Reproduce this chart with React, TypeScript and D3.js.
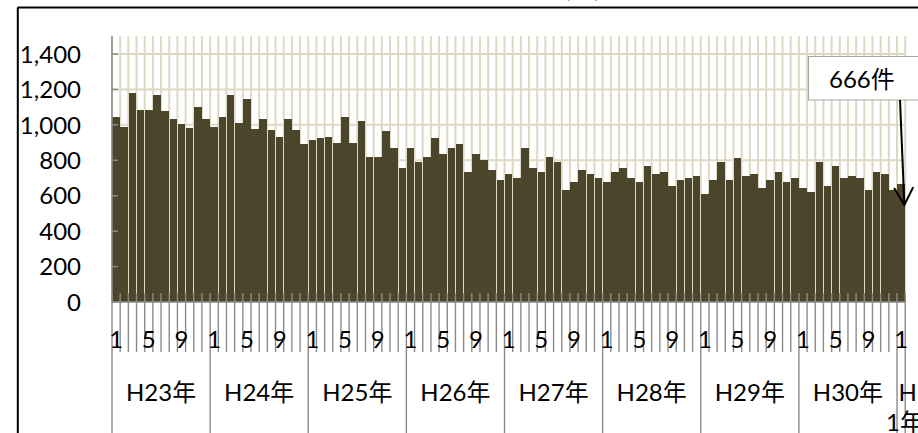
import React from "react";
import * as d3 from "d3";

const years = ["H23年", "H24年", "H25年", "H26年", "H27年", "H28年", "H29年", "H30年", "H31年"];
const h23 = [1046, 990, 1182, 1082, 1082, 1168, 1080, 1035, 1003, 980, 1103, 1035];
const h24 = [990, 1046, 1168, 1012, 1146, 977, 1035, 969, 933, 1035, 969, 890];
const h25 = [913, 924, 933, 900, 1046, 900, 1024, 820, 820, 967, 867, 755];
const h26 = [867, 788, 820, 924, 833, 867, 890, 732, 833, 800, 743, 687];
const h27 = [721, 698, 867, 755, 732, 820, 788, 630, 676, 743, 721, 698];
const h28 = [676, 732, 755, 698, 676, 766, 721, 732, 653, 687, 698, 710];
const h29 = [608, 687, 788, 687, 811, 710, 721, 642, 687, 732, 676, 698];
const h30 = [642, 619, 788, 653, 766, 698, 710, 698, 630, 732, 721, 630];
const h31 = [666];
const yearSeries = [h23, h24, h25, h26, h27, h28, h29, h30, h31];
const yTicks = [0, 200, 400, 600, 800, 1000, 1200, 1400];
const shownMonths = [1, 5, 9];
const annotationText = "666件";
const titleText = "刑法犯の認知件数(件)";

const FONT = "Lato, 'Noto Sans CJK JP', sans-serif";
const FS = 24;

type Row = { idx: number; year: number; month: number; value: number };
const rows: Row[] = [];
yearSeries.forEach((s, yi) =>
  s.forEach((v, mi) => rows.push({ idx: rows.length, year: yi, month: mi + 1, value: v }))
);

export default function App() {
  const left = 112, right = 905.2, top = 36.3, bottom = 302;
  const x = d3.scaleBand<number>().domain(rows.map((r) => r.idx)).range([left, right]).padding(0);
  const bw = x.bandwidth();
  const y = d3.scaleLinear().domain([0, 1500]).range([bottom, top]);
  const grid = "#ddd9c3";
  const tickCol = "#8a8a8a";
  const barCol = "#4a452b";

  const boundaries = d3.range(rows.length + 1).map((i) => left + i * bw);
  const yearStart: number[] = [];
  rows.forEach((r) => { if (r.month === 1) yearStart.push(r.idx); });

  const last = rows[rows.length - 1];
  const tipX = (x(last.idx) as number) + bw * 0.9;
  const tipY = y(last.value) + 21;
  const tailX = 900, tailY = 100;
  const ang = Math.atan2(tipY - tailY, tipX - tailX);
  const wing = 20, spread = 0.5;
  const w1 = [tipX - wing * Math.cos(ang - spread), tipY - wing * Math.sin(ang - spread)];
  const w2 = [tipX - wing * Math.cos(ang + spread), tipY - wing * Math.sin(ang + spread)];

  return (
    <svg width={918} height={433} style={{ position: "absolute", left: 0, top: 0, background: "#fff" }} fontFamily={FONT}>
      <rect x={0} y={0} width={918} height={433} fill="#fff" />
      <text x={600} y={-3.5} textAnchor="end" fontSize={23} fontWeight="bold" fill="#000">{titleText}</text>
      {/* chart border */}
      <line x1={17.5} y1={7.5} x2={918} y2={7.5} stroke="#000" strokeWidth={2} />
      <line x1={17.8} y1={7.5} x2={17.8} y2={433} stroke="#000" strokeWidth={2} />

      {/* horizontal gridlines */}
      {yTicks.filter((t) => t > 0).map((t) => (
        <line key={"hg" + t} x1={left} x2={right} y1={y(t)} y2={y(t)} stroke={grid} strokeWidth={2} />
      ))}
      {/* vertical gridlines */}
      {boundaries.map((b, i) => (
        <line key={"vg" + i} x1={b} x2={b} y1={top} y2={bottom} stroke={grid} strokeWidth={2} />
      ))}

      {/* bars */}
      {rows.map((r) => (
        <rect key={"b" + r.idx} x={(x(r.idx) as number) + 0.3} width={bw - 0.6} y={y(r.value)} height={bottom - y(r.value)} fill={barCol} shapeRendering="crispEdges" />
      ))}

      {/* y axis */}
      <line x1={left} x2={left} y1={top} y2={bottom} stroke={tickCol} strokeWidth={1.5} />
      {yTicks.map((t) => (
        <g key={"yt" + t}>
          <line x1={left} x2={left + 6} y1={y(t)} y2={y(t)} stroke={tickCol} strokeWidth={1.5} />
          <text x={81} y={y(t)} dy="0.36em" textAnchor="end" fontSize={FS} fill="#000">{d3.format(",")(t)}</text>
        </g>
      ))}

      {/* x axis */}
      <line x1={left} x2={right} y1={bottom} y2={bottom} stroke={tickCol} strokeWidth={1.5} />
      {boundaries.map((b, i) => {
        const isYear = i === rows.length || yearStart.includes(i);
        return <line key={"xt" + i} x1={b} x2={b} y1={293} y2={isYear ? 433 : 352} stroke={tickCol} strokeWidth={1.4} />;
      })}
      {rows.filter((r) => shownMonths.includes(r.month)).map((r) => (
        <text key={"ml" + r.idx} x={(x(r.idx) as number) + bw / 2} y={348} textAnchor="middle" fontSize={FS} fill="#000">{r.month}</text>
      ))}
      {years.map((yl, yi) => {
        const idxs = rows.filter((r) => r.year === yi).map((r) => r.idx);
        const x0 = x(idxs[0]) as number;
        const x1 = (x(idxs[idxs.length - 1]) as number) + bw;
        if (idxs.length < 3) {
          return (
            <g key={"yl" + yi}>
              <text x={x0 + 1.5} y={400.7} fontSize={FS} fill="#000">{yl.slice(0, 2)}</text>
              <text x={x0 - 11} y={431} fontSize={FS} fill="#000">{yl.slice(2)}</text>
            </g>
          );
        }
        return <text key={"yl" + yi} x={(x0 + x1) / 2} y={400.7} textAnchor="middle" fontSize={FS} fill="#000">{yl}</text>;
      })}

      {/* annotation */}
      <rect x={808.5} y={56.5} width={120} height={43.5} fill="#fff" stroke="#a6a6a6" strokeWidth={1} />
      <text x={829} y={88.3} fontSize={FS} fill="#000">{annotationText}</text>
      <line x1={tailX} y1={tailY} x2={tipX} y2={tipY} stroke="#000" strokeWidth={2} />
      <polyline points={`${w1[0]},${w1[1]} ${tipX},${tipY} ${w2[0]},${w2[1]}`} fill="none" stroke="#000" strokeWidth={2} />
    </svg>
  );
}
